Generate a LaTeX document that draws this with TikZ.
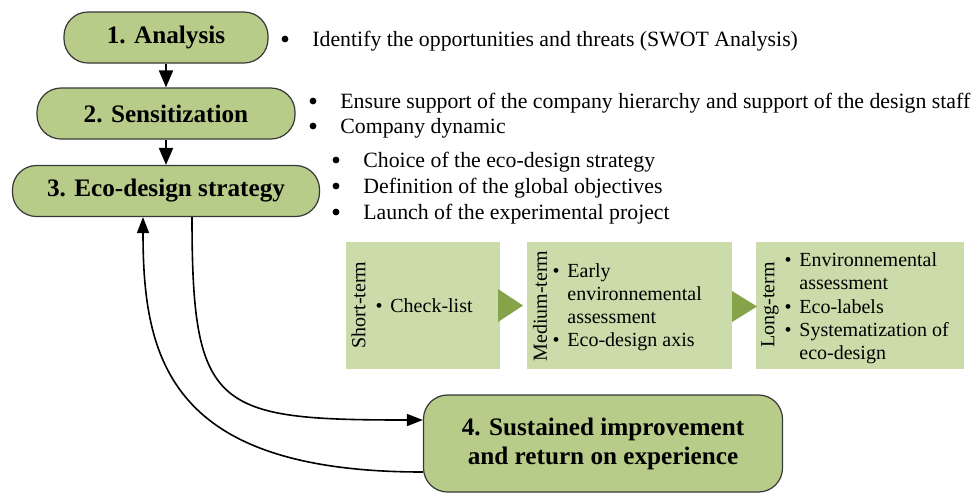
\documentclass[tikz,border=0pt]{standalone}
\usepackage{fontspec}
\setmainfont{Liberation Serif}
\usetikzlibrary{arrows.meta}
\definecolor{boxgreen}{RGB}{184,204,138}
\definecolor{lightgreen}{RGB}{203,219,169}
\definecolor{trigreen}{RGB}{134,163,74}
\definecolor{edgegray}{RGB}{55,55,55}
\begin{document}
\begin{tikzpicture}[x=0.5pt,y=-0.5pt,
 stage/.style={draw=edgegray, line width=0.6pt, fill=boxgreen, rounded corners=12pt,
   font=\fontsize{12.6}{14.5}\selectfont\bfseries, align=center, inner sep=0pt, minimum height=25.5pt},
 phase/.style={fill=lightgreen, inner sep=0pt, minimum height=63.5pt},
 txt/.style={anchor=base west, inner sep=0pt, font=\fontsize{10.9}{12.5}\selectfont},
 dot/.style={circle, fill=black, inner sep=0pt, minimum size=3.4pt},
 ptxt/.style={anchor=base west, inner sep=0pt, font=\fontsize{10}{11.5}\selectfont},
 pdot/.style={anchor=base, inner sep=0pt, text height=4pt, text depth=0pt, font=\fontsize{10}{11.5}\selectfont},
 plabel/.style={rotate=90, inner sep=0pt, font=\fontsize{10}{11.5}\selectfont},
 flow/.style={line width=1pt, -{Triangle[length=8.5pt,width=7pt]}},
 loopline/.style={line width=0.8pt, -{Triangle[length=8pt,width=6pt]}},
]
\useasboundingbox (0,0) rectangle (975,494);

% stages
\node[stage, minimum width=102pt] (a1) at (166,37.5) {1. Analysis};
\node[stage, minimum width=129pt] (a2) at (166,113.5) {2. Sensitization};
\node[stage, minimum width=153.5pt] (a3) at (166,191) {3. Eco-design strategy};
\node[stage, minimum width=179.5pt, minimum height=48.5pt] (a4) at (603,443.5) {4. Sustained improvement\\and return on experience};

\draw[flow] (a1) -- (a2);
\draw[flow] (a2) -- (a3);

% bullet lists
\node[dot] (d11) at (285,39) {};
\node[txt] (l11) at (312,46) {Identify the opportunities and threats (SWOT Analysis)};

\node[dot] (d21) at (313,101) {};
\node[txt] (l21) at (340,108) {Ensure support of the company hierarchy and support of the design staff};
\node[dot] (d22) at (313,126) {};
\node[txt] (l22) at (340,133) {Company dynamic};

\node[dot] (d31) at (336,160) {};
\node[txt] (l31) at (363,167) {Choice of the eco-design strategy};
\node[dot] (d32) at (336,186) {};
\node[txt] (l32) at (363,193) {Definition of the global objectives};
\node[dot] (d33) at (336,212) {};
\node[txt] (l33) at (363,219) {Launch of the experimental project};

% phase boxes
\node[phase, minimum width=77pt] (s1) at (423,305.5) {};
\node[phase, minimum width=102.5pt] (s2) at (629.5,305.5) {};
\node[phase, minimum width=104pt] (s3) at (860,305.5) {};
\fill[trigreen] (498,289) -- (523,305.5) -- (498,322) -- cycle;
\fill[trigreen] (732,291) -- (757,306.5) -- (732,322) -- cycle;

\node[plabel] (p1) at (358.5,305) {Short-term};
\node[plabel] (p2) at (540,306) {Medium-term};
\node[plabel] (p3) at (770,305) {Long-term};

\node[pdot] (e1) at (379,312) {\textbullet};
\node[ptxt] (f1) at (390,312) {Check-list};

\node[pdot] (e2) at (556,277) {\textbullet};
\node[ptxt] (f2) at (567,277) {Early};
\node[ptxt] (f3) at (567,300) {environnemental};
\node[ptxt] (f4) at (567,323) {assessment};
\node[pdot] (e3) at (556,346) {\textbullet};
\node[ptxt] (f5) at (567,346) {Eco-design axis};

\node[pdot] (e4) at (788,266) {\textbullet};
\node[ptxt] (g1) at (799,266) {Environnemental};
\node[ptxt] (g2) at (799,289) {assessment};
\node[pdot] (e5) at (788,313) {\textbullet};
\node[ptxt] (g3) at (799,313) {Eco-labels};
\node[pdot] (e6) at (788,336) {\textbullet};
\node[ptxt] (g4) at (799,336) {Systematization of};
\node[ptxt] (g5) at (799,359) {eco-design};

% loop connectors
\coordinate (xf) at (192,420);
\coordinate (xr) at (143,472);
\draw[loopline] (a3.south -| xf) .. controls (192,410) and (215,420) .. (a4.west |- xf);
\draw[loopline] (a4.west |- xr) .. controls (170,472) and (143,360) .. (a3.south -| xr);
\end{tikzpicture}
\end{document}
